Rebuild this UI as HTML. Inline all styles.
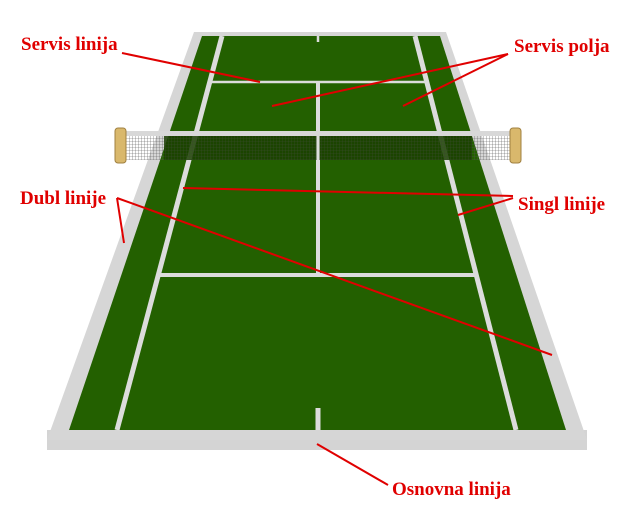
<!DOCTYPE html>
<html><head><style>
html,body{margin:0;padding:0;background:#fff;}
svg{display:block}
text{font-family:"Liberation Serif",serif;font-weight:bold;fill:#e00000;font-size:19px}
</style></head><body>
<svg width="640" height="516" viewBox="0 0 640 516">
<defs>
<pattern id="mesh" width="3" height="3" patternUnits="userSpaceOnUse">
<rect width="3" height="3" fill="none"/>
<path d="M0 0H3M0 0V3" stroke="#555" stroke-width="0.6"/>
</pattern>
</defs>
<!-- slab -->
<polygon points="47,430 587,430 587,450 47,450" fill="#d4d4d4"/>
<polygon points="194,32 446,32 587,440 47,440" fill="#d6d6d6"/>
<!-- green -->
<polygon points="202,36 440,36 566,430 69,430" fill="#236000"/>
<!-- singles lines -->
<line x1="222" y1="36" x2="117" y2="430" stroke="#dcdcdc" stroke-width="5"/>
<line x1="415" y1="36" x2="516" y2="430" stroke="#dcdcdc" stroke-width="5"/>
<!-- service lines -->
<line x1="210" y1="82" x2="427" y2="82" stroke="#dcdcdc" stroke-width="2.5"/>
<line x1="160" y1="275" x2="477" y2="275" stroke="#dcdcdc" stroke-width="4"/>
<!-- center line -->
<line x1="318" y1="82" x2="318" y2="275" stroke="#dcdcdc" stroke-width="4"/>
<line x1="318" y1="36" x2="318" y2="42" stroke="#dcdcdc" stroke-width="2.5"/>
<line x1="318" y1="408" x2="318" y2="430" stroke="#dcdcdc" stroke-width="5"/>
<!-- net -->
<rect x="122" y="136" width="392" height="24" fill="url(#mesh)"/>
<rect x="164" y="136" width="308" height="24" fill="#1a3f00" opacity="0.85"/>
<rect x="164" y="136" width="308" height="24" fill="url(#mesh)" opacity="0.5"/>
<rect x="120" y="131" width="396" height="5" fill="#d8d8d8"/>
<line x1="318" y1="136" x2="318" y2="160" stroke="#dcdcdc" stroke-width="3"/>
<rect x="115" y="128" width="11" height="35" rx="3" fill="#d9b86c" stroke="#a08040"/>
<rect x="510" y="128" width="11" height="35" rx="3" fill="#d9b86c" stroke="#a08040"/>
<!-- red leaders -->
<g stroke="#e00000" stroke-width="2">
<line x1="122" y1="53" x2="260" y2="82"/>
<line x1="508" y1="54" x2="272" y2="106"/>
<line x1="508" y1="54" x2="403" y2="106"/>
<line x1="117" y1="198" x2="124" y2="243"/>
<line x1="117" y1="198" x2="552" y2="355"/>
<line x1="513" y1="196" x2="183" y2="188"/>
<line x1="513" y1="198" x2="458" y2="215"/>
<line x1="317" y1="444" x2="388" y2="485"/>
</g>
<text x="21" y="50">Servis linija</text>
<text x="514" y="52">Servis polja</text>
<text x="20" y="204">Dubl linije</text>
<text x="518" y="210">Singl linije</text>
<text x="392" y="495">Osnovna linija</text>
</svg>
</body></html>
